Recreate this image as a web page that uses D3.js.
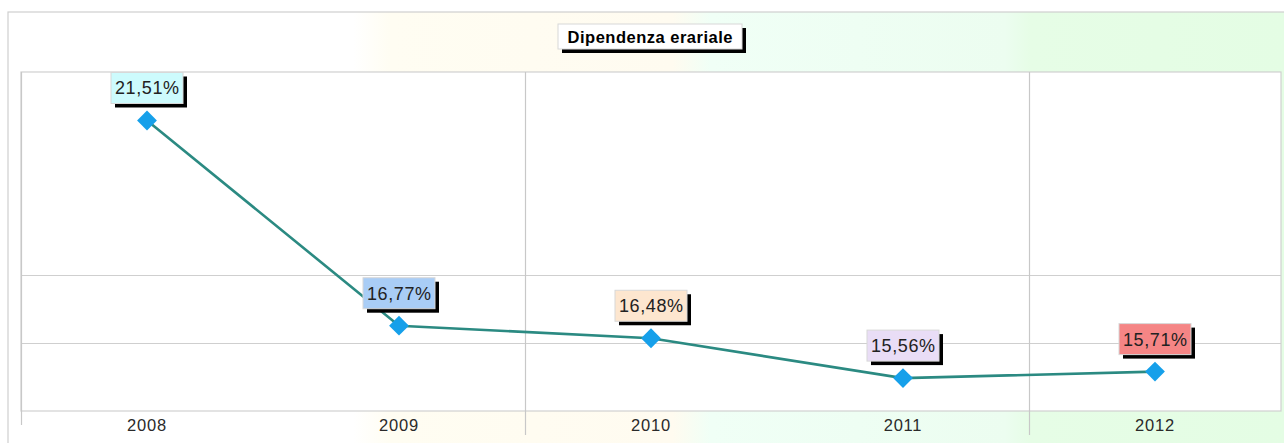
<!DOCTYPE html>
<html><head><meta charset="utf-8">
<script src="https://cdn.jsdelivr.net/npm/d3@7/dist/d3.min.js"></script>
<style>body{margin:0;background:#fff;}svg{display:block;font-family:"Liberation Sans",Arial,sans-serif;}</style>
</head><body>
<svg id="c" width="1284" height="443"></svg>
<script>
const categories = ["2008","2009","2010","2011","2012"];
const values = [21.51, 16.77, 16.48, 15.56, 15.71];
const valueLabels = ["21,51%","16,77%","16,48%","15,56%","15,71%"];
const labelColors = ["#cdfbfd","#a9cdf6","#fde6cf","#e9ddf6","#f58585"];
const yDomain = [14.8, 22.63];
const yGrid = [16.37, 17.94];
const title = "Dipendenza erariale";

const svg = d3.select("#c");
const W = 1284, H = 443;
const frame = {x:8, y:12};
const plot = {l:21, t:72, r:1281, b:411};

// background gradient
const defs = svg.append("defs");
const g = defs.append("linearGradient").attr("id","bg").attr("x1","0").attr("x2","1").attr("y1","0").attr("y2","0");
[[0,"#ffffff"],[0.27,"#ffffff"],[0.30,"#fffdf2"],[0.52,"#fffbf0"],[0.55,"#f0fff6"],[0.78,"#ecfdf0"],[0.80,"#e6fde6"],[1,"#e4fde4"]]
  .forEach(([o,c])=>g.append("stop").attr("offset",o).attr("stop-color",c));
svg.append("rect").attr("x",frame.x).attr("y",frame.y).attr("width",W-frame.x+2).attr("height",H-frame.y+2)
  .attr("fill","url(#bg)").attr("stroke","#cfcfcf").attr("stroke-width",1.2);

const x = d3.scaleBand().domain(categories).range([plot.l, plot.r]);
const y = d3.scaleLinear().domain(yDomain).range([plot.b, plot.t]);

svg.append("rect").attr("x",plot.l).attr("y",plot.t).attr("width",plot.r-plot.l).attr("height",plot.b-plot.t)
  .attr("fill","#fff").attr("stroke","#d0d0d0").attr("stroke-width",1.2);

// horizontal grid
svg.append("g").selectAll("line").data(yGrid).join("line")
  .attr("x1",plot.l).attr("x2",plot.r).attr("y1",d=>Math.round(y(d))+0.5).attr("y2",d=>Math.round(y(d))+0.5)
  .attr("stroke","#cfcfcf").attr("stroke-width",1.2);
// vertical grid every two bands
const vx = [categories[0], categories[2], categories[4]].map(c=>x(c));
svg.append("g").selectAll("line").data(vx).join("line")
  .attr("x1",d=>Math.round(d)+0.5).attr("x2",d=>Math.round(d)+0.5)
  .attr("y1",plot.t).attr("y2",(d,i)=> i===0 ? plot.b+14 : plot.b+24)
  .attr("stroke","#c8c8c8").attr("stroke-width",1.2);

// x axis labels
const ax = svg.append("g").attr("transform",`translate(0,${plot.b})`)
  .call(d3.axisBottom(x).tickSize(0).tickPadding(8));
ax.select(".domain").remove();
ax.selectAll("text").attr("font-size",16.5).attr("letter-spacing",0.8).attr("fill","#2a2a2a")
  .attr("font-family","Liberation Sans, Arial, sans-serif");

// line
const pts = categories.map((c,i)=>[x(c)+x.bandwidth()/2, y(values[i])]);
svg.append("path").attr("d",d3.line()(pts)).attr("fill","none").attr("stroke","#2b8a82").attr("stroke-width",2.6);

// markers
svg.append("g").selectAll("path").data(pts).join("path")
  .attr("d",d3.symbol(d3.symbolDiamond2, 250)())
  .attr("transform",d=>`translate(${d[0]},${d[1]})`)
  .attr("fill","#16a0ea");

// labels
const bw = 72, bh = 31;
const lg = svg.append("g").selectAll("g").data(pts).join("g")
  .attr("transform",d=>`translate(${d[0]-bw/2},${d[1]-17-bh})`);
lg.append("rect").attr("x",4).attr("y",4).attr("width",bw).attr("height",bh).attr("fill","#000");
lg.append("rect").attr("width",bw).attr("height",bh).attr("fill",(d,i)=>labelColors[i]).attr("stroke","#d8d8d8");
lg.append("text").attr("x",bw/2+0.3).attr("y",bh/2+6.5).attr("text-anchor","middle")
  .attr("font-size",18).attr("letter-spacing",0.6).attr("fill","#222").text((d,i)=>valueLabels[i]);

// title
const tg = svg.append("g").attr("transform","translate(558,24)");
tg.append("rect").attr("x",4).attr("y",4).attr("width",184).attr("height",25).attr("fill","#000");
tg.append("rect").attr("width",184).attr("height",25).attr("fill","#fff").attr("stroke","#d8d8d8");
tg.append("text").attr("x",92.3).attr("y",18.5).attr("text-anchor","middle").attr("font-size",16.5)
  .attr("letter-spacing",0.5).attr("font-weight","bold").attr("fill","#000").text(title);
</script>
</body></html>
